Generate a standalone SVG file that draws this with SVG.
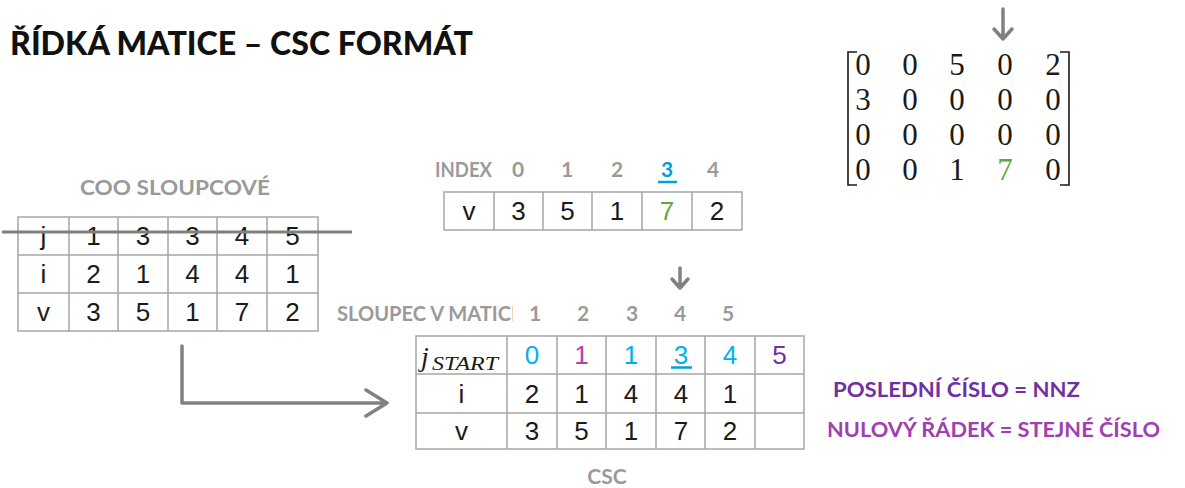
<svg xmlns="http://www.w3.org/2000/svg" width="1185" height="488" viewBox="0 0 1185 488">
<style>
.grid{fill:none;stroke:#a6a6a6;stroke-width:1.5}
.cell{font-family:"Liberation Sans",Arial,sans-serif;font-size:26px;fill:#1a1a1a;text-anchor:middle}
.hdr{font-family:Lato,"Open Sans",sans-serif;font-weight:bold;font-size:21px;fill:#9a9a9a}
.hnum{font-family:Lato,"Open Sans",sans-serif;font-weight:bold;font-size:21px;fill:#9a9a9a;text-anchor:middle}
.mat{font-family:"Liberation Serif","DejaVu Serif",serif;font-size:31px;fill:#1a1a1a;text-anchor:middle}
.arrow{fill:none;stroke:#808080;stroke-width:3.5;stroke-linecap:round;stroke-linejoin:round}
.cyan{fill:#00b0f0}.mag{fill:#b040b0}.pur{fill:#7030a0}.grn{fill:#5aaa3c}
</style>
<rect width="1185" height="488" fill="#ffffff"/>

<g id="title">
<text x="10" y="55" font-family="Lato,'Open Sans',sans-serif" font-weight="900" font-size="33" fill="#111" textLength="463" lengthAdjust="spacingAndGlyphs">ŘÍDKÁ MATICE –  CSC FORMÁT</text>
</g>

<g id="matrix">
<path d="M857,52 H848 V185 H857 M1060,52 H1069 V185 H1060" fill="none" stroke="#1a1a1a" stroke-width="1.6"/>
<g class="mat">
<text x="863" y="75">0</text><text x="910" y="75">0</text><text x="957" y="75">5</text><text x="1005" y="75">0</text><text x="1053" y="75">2</text>
<text x="863" y="110">3</text><text x="910" y="110">0</text><text x="957" y="110">0</text><text x="1005" y="110">0</text><text x="1053" y="110">0</text>
<text x="863" y="145">0</text><text x="910" y="145">0</text><text x="957" y="145">0</text><text x="1005" y="145">0</text><text x="1053" y="145">0</text>
<text x="863" y="180">0</text><text x="910" y="180">0</text><text x="957" y="180">1</text><text x="1005" y="180" class="grn">7</text><text x="1053" y="180">0</text>
</g>
</g>

<g id="coo">
<text x="80" y="195" class="hdr" textLength="190" lengthAdjust="spacingAndGlyphs">COO SLOUPCOVÉ</text>
<path class="grid" d="M18,217 H318 V331 H18 Z M18,255 H318 M18,293 H318 M69,217 V331 M118,217 V331 M168,217 V331 M217,217 V331 M267,217 V331"/>
<g class="cell">
<text x="43.5" y="245">j</text><text x="93.5" y="245">1</text><text x="143" y="245">3</text><text x="192.5" y="245">3</text><text x="242" y="245">4</text><text x="292.5" y="245">5</text>
<text x="43.5" y="283">i</text><text x="93.5" y="283">2</text><text x="143" y="283">1</text><text x="192.5" y="283">4</text><text x="242" y="283">4</text><text x="292.5" y="283">1</text>
<text x="43.5" y="321">v</text><text x="93.5" y="321">3</text><text x="143" y="321">5</text><text x="192.5" y="321">1</text><text x="242" y="321">7</text><text x="292.5" y="321">2</text>
</g>
<line x1="2" y1="232" x2="352" y2="232" stroke="#808080" stroke-width="3"/>
</g>

<g id="values">
<text x="435" y="177" class="hdr" font-size="19" textLength="57" lengthAdjust="spacingAndGlyphs">INDEX</text>
<text x="518" y="177" class="hnum">0</text><text x="567" y="177" class="hnum">1</text><text x="617" y="177" class="hnum">2</text><text x="667" y="177" class="hnum" style="fill:#00a0e0">3</text><text x="713" y="177" class="hnum">4</text>
<line x1="658" y1="182" x2="677" y2="182" stroke="#00a0e0" stroke-width="2.5"/>
<path class="grid" d="M444,192 H742 V230 H444 Z M494,192 V230 M543,192 V230 M592,192 V230 M642,192 V230 M692,192 V230"/>
<g class="cell">
<text x="469" y="220">v</text><text x="518.5" y="220">3</text><text x="567.5" y="220">5</text><text x="617" y="220">1</text><text x="667" y="220" class="grn">7</text><text x="717" y="220">2</text>
</g>
</g>

<g id="csc">
<text x="337" y="321" class="hdr" font-size="19" textLength="180" lengthAdjust="spacingAndGlyphs">SLOUPEC V MATICI</text>
<rect x="513" y="300" width="10" height="28" fill="#ffffff"/>
<text x="535" y="321" class="hnum">1</text><text x="583" y="321" class="hnum">2</text><text x="632" y="321" class="hnum">3</text><text x="680" y="321" class="hnum">4</text><text x="728" y="321" class="hnum">5</text>
<path class="grid" d="M416,336 H804 V449 H416 Z M416,374 H804 M416,413 H804 M507,336 V449 M557,336 V449 M606,336 V449 M656,336 V449 M705,336 V449 M755,336 V449"/>
<text x="421" y="366" font-family="'Liberation Serif','DejaVu Serif',serif" font-style="italic" font-size="28" fill="#1a1a1a">j</text>
<text x="432" y="370" font-family="'Liberation Serif','DejaVu Serif',serif" font-style="italic" font-size="18" fill="#1a1a1a" textLength="66" lengthAdjust="spacingAndGlyphs">START</text>
<g class="cell">
<text x="532" y="364" class="cyan">0</text><text x="581.5" y="364" class="mag">1</text><text x="631" y="364" class="cyan">1</text><text x="681" y="364" class="cyan">3</text><text x="730" y="364" class="cyan">4</text><text x="779.5" y="364" class="pur">5</text>
<text x="461.5" y="402.5">i</text><text x="532" y="402.5">2</text><text x="581.5" y="402.5">1</text><text x="631" y="402.5">4</text><text x="681" y="402.5">4</text><text x="730" y="402.5">1</text>
<text x="461.5" y="440">v</text><text x="532" y="440">3</text><text x="581.5" y="440">5</text><text x="631" y="440">1</text><text x="681" y="440">7</text><text x="730" y="440">2</text>
</g>
<line x1="671" y1="367.5" x2="692" y2="367.5" stroke="#00a0e0" stroke-width="2.5"/>
<text x="607" y="484" class="hdr" text-anchor="middle">CSC</text>
</g>

<g id="notes" font-family="Lato,'Open Sans',sans-serif" font-weight="bold" font-size="21">
<text x="833" y="397" fill="#7030a0" textLength="247" lengthAdjust="spacingAndGlyphs">POSLEDNÍ ČÍSLO = NNZ</text>
<text x="827" y="437" fill="#a040b0" textLength="333" lengthAdjust="spacingAndGlyphs">NULOVÝ ŘÁDEK = STEJNÉ ČÍSLO</text>
</g>

<g id="connectors">
<path class="arrow" d="M1003,9 V39 M994,29 L1003,39 L1012,29"/>
<path class="arrow" d="M680,268 V288 M672,279 L680,288 L688,279"/>
<path class="arrow" d="M182,346 V403 H387 M366,390 L387,403 L366,416"/>
</g>
</svg>
